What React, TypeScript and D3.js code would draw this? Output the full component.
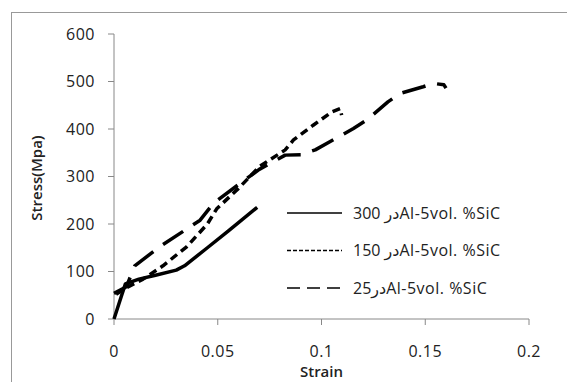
import React from "react";
import * as d3 from "d3";

// strain / stress readings (Mpa)
const series300: [number, number][] = [
  [0, 0], [0.0037, 50], [0.0055, 74], [0.012, 84], [0.02, 92], [0.03, 103],
  [0.034, 112], [0.045, 150], [0.055, 185], [0.069, 235],
];
const series150: [number, number][] = [
  [0.001, 52], [0.006, 66], [0.014, 84], [0.0236, 112], [0.035, 152],
  [0.045, 200], [0.0495, 232], [0.06, 275], [0.0704, 322], [0.0825, 356],
  [0.0865, 377], [0.096, 408], [0.105, 436], [0.109, 443], [0.1097, 429],
];
const series25: [number, number][] = [
  [0, 54], [0.006, 68], [0.01, 112], [0.022, 152], [0.0415, 208],
  [0.048, 244], [0.06, 283], [0.07, 315], [0.0825, 345], [0.09, 346],
  [0.097, 356], [0.104, 373], [0.1154, 401], [0.1218, 419], [0.132, 457],
  [0.138, 475], [0.149, 489], [0.154, 496], [0.159, 493], [0.16, 486],
];
const xTicks = [0, 0.05, 0.1, 0.15, 0.2];
const yTicks = [0, 100, 200, 300, 400, 500, 600];
const legendLabels = ["300 ", "150 ", "25"];

const W = 567;
const H = 382;
const font = "'Open Sans', 'DejaVu Sans', sans-serif";
const axisColor = "#888";
const textColor = "#222";

export default function App() {
  const x = d3.scaleLinear().domain([0, 0.2]).range([114, 529]);
  const y = d3.scaleLinear().domain([0, 600]).range([319, 34]);
  const line = d3
    .line<[number, number]>()
    .x(d => x(d[0]))
    .y(d => y(d[1]))
    .curve(d3.curveLinear);

  const lines = [
    { data: series300, dash: "none", legendDash: "none" },
    { data: series150, dash: "8,5", legendDash: "4,2" },
    { data: series25, dash: "24,12", legendDash: "13,7" },
  ];

  return (
    <svg
      width={W}
      height={H}
      style={{ position: "absolute", left: 0, top: 0, background: "#fff" }}
    >
      <rect x={11.5} y={12.5} width={W} height={H} fill="#fff" stroke="#999" />

      {/* y axis */}
      <line x1={x(0)} x2={x(0)} y1={y(0)} y2={y(600)} stroke={axisColor} />
      {yTicks.map(t => (
        <g key={t}>
          <line x1={x(0) - 6} x2={x(0)} y1={y(t)} y2={y(t)} stroke={axisColor} />
          <text
            x={95}
            y={y(t)}
            dy="0.36em"
            textAnchor="end"
            fontFamily={font}
            fontSize={16}
            letterSpacing={0.5}
            fill={textColor}
          >
            {t}
          </text>
        </g>
      ))}

      {/* x axis */}
      <line x1={x(0)} x2={x(0.2)} y1={y(0)} y2={y(0)} stroke={axisColor} />
      {xTicks.map(t => (
        <g key={t}>
          <line x1={x(t)} x2={x(t)} y1={y(0)} y2={y(0) + 6} stroke={axisColor} />
          <text
            x={x(t)}
            y={357}
            textAnchor="middle"
            fontFamily={font}
            fontSize={16}
            letterSpacing={0.5}
            fill={textColor}
          >
            {t}
          </text>
        </g>
      ))}

      <text
        x={x(0.1)}
        y={377}
        textAnchor="middle"
        fontFamily={font}
        fontSize={15}
        fontWeight={600}
        fill={textColor}
      >
        Strain
      </text>
      <text
        transform="translate(42,178) rotate(-90)"
        textAnchor="middle"
        fontFamily={font}
        fontSize={15}
        fontWeight={600}
        fill={textColor}
      >
        Stress(Mpa)
      </text>

      {lines.map((l, i) => (
        <path
          key={i}
          d={line(l.data) || ""}
          fill="none"
          stroke="#000"
          strokeWidth={3.5}
          strokeDasharray={l.dash}
          strokeLinejoin="round"
        />
      ))}

      {/* legend */}
      {lines.map((l, i) => {
        const ly = 213 + i * 37.5;
        return (
          <g key={i}>
            <line
              x1={287}
              x2={342}
              y1={ly}
              y2={ly}
              stroke="#000"
              strokeWidth={1.6}
              strokeDasharray={l.legendDash}
            />
            <text
              x={353}
              y={ly}
              dy="0.36em"
              fontFamily={font}
              fontSize={16}
              letterSpacing={0.5}
              fill={textColor}
            >
              <tspan>{legendLabels[i]}</tspan>
              <tspan>در</tspan>
              <tspan>Al-5vol. %SiC</tspan>
            </text>
          </g>
        );
      })}
    </svg>
  );
}
